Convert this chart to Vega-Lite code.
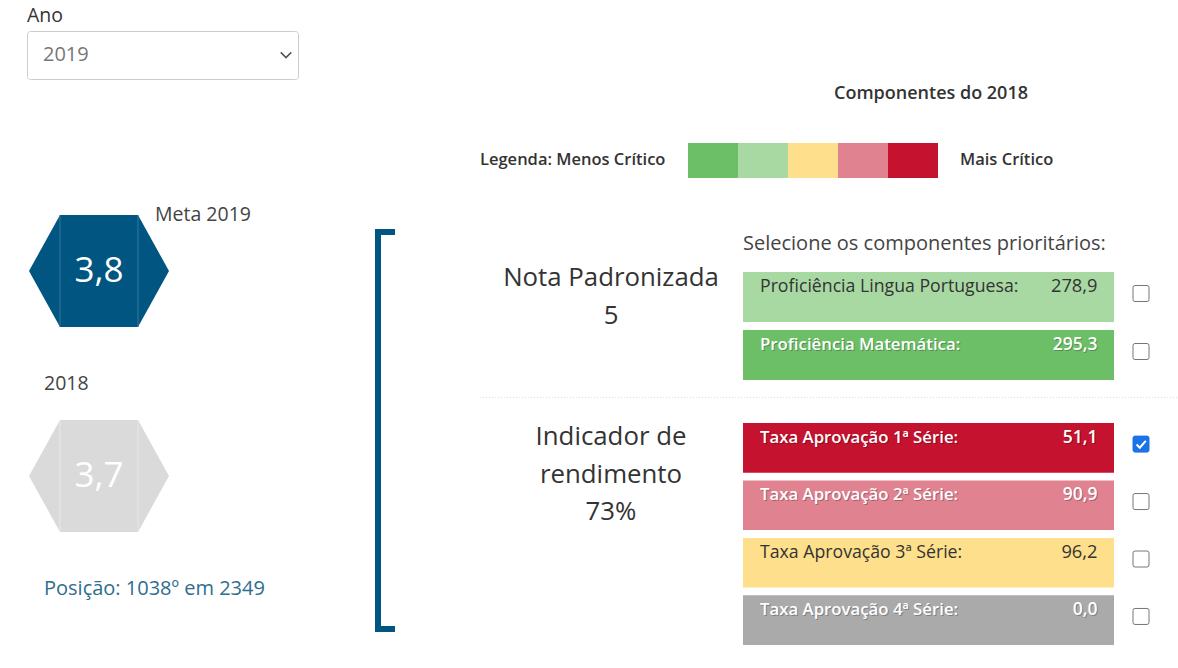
{
  "$schema": "https://vega.github.io/schema/vega-lite/v6.json",
  "width": 1178,
  "height": 668,
  "autosize": "none",
  "padding": 0,
  "background": "#ffffff",
  "config": {"view": {"stroke": null}, "font": "Open Sans", "text": {"font": "Open Sans"}},
  "datasets": {
    "painel": [{"ano_selecionado": "2019", "ano_componentes": "2018", "posicao": 1038, "total_escolas": 2349}],
    "indicadores": [
      {"indicador": "Meta 2019", "ideb": 3.8, "tipo": "meta"},
      {"indicador": "2018", "ideb": 3.7, "tipo": "resultado"}
    ],
    "niveis": [{"nivel": "1"}, {"nivel": "2"}, {"nivel": "3"}, {"nivel": "4"}, {"nivel": "5"}],
    "grupos": [
      {"grupo": "Nota Padronizada", "valor": 5},
      {"grupo": "Indicador de rendimento", "valor": 0.73}
    ],
    "componentes": [
      {"grupo": "Nota Padronizada", "componente": "Proficiência Lingua Portuguesa", "valor": 278.9, "nivel": "2", "selecionado": false},
      {"grupo": "Nota Padronizada", "componente": "Proficiência Matemática", "valor": 295.3, "nivel": "1", "selecionado": false},
      {"grupo": "Indicador de rendimento", "componente": "Taxa Aprovação 1ª Série", "valor": 51.1, "nivel": "5", "selecionado": true},
      {"grupo": "Indicador de rendimento", "componente": "Taxa Aprovação 2ª Série", "valor": 90.9, "nivel": "4", "selecionado": false},
      {"grupo": "Indicador de rendimento", "componente": "Taxa Aprovação 3ª Série", "valor": 96.2, "nivel": "3", "selecionado": false},
      {"grupo": "Indicador de rendimento", "componente": "Taxa Aprovação 4ª Série", "valor": 0.0, "nivel": "sem dado", "selecionado": false}
    ]
  },
  "resolve": {"scale": {"x": "independent", "y": "independent"}},
  "layer": [
    {
      "data": {"name": "painel"},
      "transform": [
        {"calculate": "'Componentes do ' + datum.ano_componentes", "as": "titulo"},
        {"calculate": "'Posição: ' + datum.posicao + 'º em ' + datum.total_escolas", "as": "posicao_txt"}
      ],
      "layer": [
        {"mark": {"type": "text", "align": "left", "baseline": "middle", "fontSize": 19.5, "color": "#333333"},
         "encoding": {"x": {"datum": 27, "type": "quantitative", "scale": {"domain": [0, 1178], "nice": false, "zero": false}, "axis": null},
                      "y": {"datum": 16, "type": "quantitative", "scale": {"domain": [0, 668], "nice": false, "zero": false, "reverse": true}, "axis": null},
                      "text": {"value": "Ano"}}},
        {"mark": {"type": "rect", "fill": "#ffffff", "stroke": "#cccccc", "strokeWidth": 1, "cornerRadius": 3},
         "encoding": {"x": {"datum": 27.5, "type": "quantitative", "scale": {"domain": [0, 1178], "nice": false, "zero": false}, "axis": null}, "x2": {"datum": 298.5},
                      "y": {"datum": 31.5, "type": "quantitative", "scale": {"domain": [0, 668], "nice": false, "zero": false, "reverse": true}, "axis": null}, "y2": {"datum": 79.5}}},
        {"mark": {"type": "text", "align": "left", "baseline": "middle", "fontSize": 20, "color": "#777777"},
         "encoding": {"x": {"datum": 43, "type": "quantitative", "scale": {"domain": [0, 1178], "nice": false, "zero": false}, "axis": null},
                      "y": {"datum": 55, "type": "quantitative", "scale": {"domain": [0, 668], "nice": false, "zero": false, "reverse": true}, "axis": null},
                      "text": {"field": "ano_selecionado", "type": "nominal"}}},
        {"mark": {"type": "point", "shape": "M-1,-0.5L0,0.5L1,-0.5", "filled": false, "stroke": "#555555", "strokeWidth": 1.6, "size": 110, "opacity": 1},
         "encoding": {"x": {"datum": 286, "type": "quantitative", "scale": {"domain": [0, 1178], "nice": false, "zero": false}, "axis": null},
                      "y": {"datum": 55, "type": "quantitative", "scale": {"domain": [0, 668], "nice": false, "zero": false, "reverse": true}, "axis": null}}},
        {"mark": {"type": "text", "align": "center", "baseline": "middle", "fontSize": 18, "fontWeight": 600, "color": "#333333"},
         "encoding": {"x": {"datum": 931, "type": "quantitative", "scale": {"domain": [0, 1178], "nice": false, "zero": false}, "axis": null},
                      "y": {"datum": 94, "type": "quantitative", "scale": {"domain": [0, 668], "nice": false, "zero": false, "reverse": true}, "axis": null},
                      "text": {"field": "titulo", "type": "nominal"}}},
        {"mark": {"type": "text", "align": "left", "baseline": "middle", "fontSize": 16.5, "fontWeight": 600, "color": "#333333"},
         "encoding": {"x": {"datum": 480, "type": "quantitative", "scale": {"domain": [0, 1178], "nice": false, "zero": false}, "axis": null},
                      "y": {"datum": 160, "type": "quantitative", "scale": {"domain": [0, 668], "nice": false, "zero": false, "reverse": true}, "axis": null},
                      "text": {"value": "Legenda: Menos Crítico"}}},
        {"mark": {"type": "text", "align": "left", "baseline": "middle", "fontSize": 16.5, "fontWeight": 600, "color": "#333333"},
         "encoding": {"x": {"datum": 960, "type": "quantitative", "scale": {"domain": [0, 1178], "nice": false, "zero": false}, "axis": null},
                      "y": {"datum": 160, "type": "quantitative", "scale": {"domain": [0, 668], "nice": false, "zero": false, "reverse": true}, "axis": null},
                      "text": {"value": "Mais Crítico"}}},
        {"mark": {"type": "text", "align": "left", "baseline": "middle", "fontSize": 20, "color": "#2e6d8e"},
         "encoding": {"x": {"datum": 44, "type": "quantitative", "scale": {"domain": [0, 1178], "nice": false, "zero": false}, "axis": null},
                      "y": {"datum": 589, "type": "quantitative", "scale": {"domain": [0, 668], "nice": false, "zero": false, "reverse": true}, "axis": null},
                      "text": {"field": "posicao_txt", "type": "nominal"}}},
        {"mark": {"type": "text", "align": "left", "baseline": "middle", "fontSize": 20, "color": "#444444"},
         "encoding": {"x": {"datum": 743, "type": "quantitative", "scale": {"domain": [0, 1178], "nice": false, "zero": false}, "axis": null},
                      "y": {"datum": 244, "type": "quantitative", "scale": {"domain": [0, 668], "nice": false, "zero": false, "reverse": true}, "axis": null},
                      "text": {"value": "Selecione os componentes prioritários:"}}},
        {"mark": {"type": "rule", "stroke": "#dddddd", "strokeWidth": 1, "strokeDash": [1, 2]},
         "encoding": {"x": {"datum": 480, "type": "quantitative", "scale": {"domain": [0, 1178], "nice": false, "zero": false}, "axis": null}, "x2": {"datum": 1178},
                      "y": {"datum": 397.5, "type": "quantitative", "scale": {"domain": [0, 668], "nice": false, "zero": false, "reverse": true}, "axis": null}}},
        {"mark": {"type": "rect", "fill": "#005581"},
         "encoding": {"x": {"datum": 375, "type": "quantitative", "scale": {"domain": [0, 1178], "nice": false, "zero": false}, "axis": null}, "x2": {"datum": 381},
                      "y": {"datum": 229, "type": "quantitative", "scale": {"domain": [0, 668], "nice": false, "zero": false, "reverse": true}, "axis": null}, "y2": {"datum": 632}}},
        {"mark": {"type": "rect", "fill": "#005581"},
         "encoding": {"x": {"datum": 375, "type": "quantitative", "scale": {"domain": [0, 1178], "nice": false, "zero": false}, "axis": null}, "x2": {"datum": 395},
                      "y": {"datum": 229, "type": "quantitative", "scale": {"domain": [0, 668], "nice": false, "zero": false, "reverse": true}, "axis": null}, "y2": {"datum": 235}}},
        {"mark": {"type": "rect", "fill": "#005581"},
         "encoding": {"x": {"datum": 375, "type": "quantitative", "scale": {"domain": [0, 1178], "nice": false, "zero": false}, "axis": null}, "x2": {"datum": 395},
                      "y": {"datum": 626, "type": "quantitative", "scale": {"domain": [0, 668], "nice": false, "zero": false, "reverse": true}, "axis": null}, "y2": {"datum": 632}}}
      ]
    },
    {
      "data": {"name": "indicadores"},
      "transform": [{"calculate": "replace(format(datum.ideb, '.1f'), '.', ',')", "as": "ideb_txt"}],
      "encoding": {
        "x": {"datum": 99, "type": "quantitative", "scale": {"domain": [0, 1178], "nice": false, "zero": false}, "axis": null},
        "y": {"field": "indicador", "type": "nominal", "scale": {"type": "point", "domain": ["Meta 2019", "2018"], "range": [271, 476], "padding": 0}, "axis": null}
      },
      "layer": [
        {"mark": {"type": "point", "shape": "M-1,0L-0.557,-0.8L0.557,-0.8L1,0L0.557,0.8L-0.557,0.8Z", "filled": true, "size": 19600, "opacity": 1, "strokeWidth": 0},
         "encoding": {"fill": {"field": "tipo", "type": "nominal", "scale": {"domain": ["meta", "resultado"], "range": ["#005581", "#dadada"]}, "legend": null}}},
        {"mark": {"type": "point", "shape": "M-0.557,-0.8L-0.557,0.8M0.557,-0.8L0.557,0.8", "filled": false, "size": 19600, "opacity": 1, "strokeWidth": 1},
         "encoding": {"stroke": {"condition": {"test": "datum.tipo == 'meta'", "value": "#3b77a0"}, "value": "#e8e8e8"}}},
        {"mark": {"type": "text", "align": "center", "baseline": "middle", "fontSize": 35, "color": "#ffffff"},
         "encoding": {"text": {"field": "ideb_txt", "type": "nominal"}}},
        {"transform": [{"filter": "datum.tipo == 'meta'"}],
         "mark": {"type": "text", "align": "left", "baseline": "middle", "fontSize": 19.5, "color": "#444444", "dy": -56},
         "encoding": {"x": {"datum": 155, "type": "quantitative", "scale": {"domain": [0, 1178], "nice": false, "zero": false}, "axis": null}, "text": {"field": "indicador", "type": "nominal"}}},
        {"transform": [{"filter": "datum.tipo == 'resultado'"}],
         "mark": {"type": "text", "align": "left", "baseline": "middle", "fontSize": 19.5, "color": "#444444", "dy": -92},
         "encoding": {"x": {"datum": 44, "type": "quantitative", "scale": {"domain": [0, 1178], "nice": false, "zero": false}, "axis": null}, "text": {"field": "indicador", "type": "nominal"}}}
      ]
    },
    {
      "data": {"name": "componentes"},
      "transform": [
        {"filter": "datum.grupo == 'Nota Padronizada'"},
        {"calculate": "replace(format(datum.valor, '.1f'), '.', ',')", "as": "valor_txt"},
        {"calculate": "datum.componente + ':'", "as": "rotulo"}
      ],
      "encoding": {
        "y": {"field": "componente", "type": "nominal", "scale": {"type": "band", "domain": ["Proficiência Lingua Portuguesa", "Proficiência Matemática"], "range": [272, 380], "paddingInner": 0.138, "paddingOuter": 0}, "axis": null}
      },
      "layer": [
        {"mark": {"type": "bar", "cornerRadius": 0},
         "encoding": {"x": {"datum": 743, "type": "quantitative", "scale": {"domain": [0, 1178], "nice": false, "zero": false}, "axis": null}, "x2": {"datum": 1114},
                      "color": {"field": "nivel", "type": "nominal", "scale": {"domain": ["1", "2", "3", "4", "5", "sem dado"], "range": ["#6cbf66", "#a9d9a3", "#fedf8b", "#e08290", "#c4122f", "#aaaaaa"]}, "legend": null}}},
        {"transform": [{"filter": "datum.nivel == '2' || datum.nivel == '3'"}],
         "layer": [
           {"mark": {"type": "text", "align": "left", "baseline": "middle", "fontSize": 17.7, "color": "#333333", "dy": -10},
            "encoding": {"x": {"datum": 760, "type": "quantitative", "scale": {"domain": [0, 1178], "nice": false, "zero": false}, "axis": null}, "text": {"field": "rotulo", "type": "nominal"}}},
           {"mark": {"type": "text", "align": "right", "baseline": "middle", "fontSize": 18.3, "color": "#333333", "dy": -10},
            "encoding": {"x": {"datum": 1097.5, "type": "quantitative", "scale": {"domain": [0, 1178], "nice": false, "zero": false}, "axis": null}, "text": {"field": "valor_txt", "type": "nominal"}}}
         ]},
        {"transform": [{"filter": "datum.nivel != '2' && datum.nivel != '3'"}],
         "layer": [
           {"mark": {"type": "text", "align": "left", "baseline": "middle", "fontSize": 16.8, "fontWeight": 600, "color": "#000000", "opacity": 0.25, "dx": 1, "dy": -9},
            "encoding": {"x": {"datum": 760, "type": "quantitative", "scale": {"domain": [0, 1178], "nice": false, "zero": false}, "axis": null}, "text": {"field": "rotulo", "type": "nominal"}}},
           {"mark": {"type": "text", "align": "right", "baseline": "middle", "fontSize": 17.5, "fontWeight": 600, "color": "#000000", "opacity": 0.25, "dx": 1, "dy": -9},
            "encoding": {"x": {"datum": 1097.5, "type": "quantitative", "scale": {"domain": [0, 1178], "nice": false, "zero": false}, "axis": null}, "text": {"field": "valor_txt", "type": "nominal"}}},
           {"mark": {"type": "text", "align": "left", "baseline": "middle", "fontSize": 16.8, "fontWeight": 600, "color": "#ffffff", "dy": -10},
            "encoding": {"x": {"datum": 760, "type": "quantitative", "scale": {"domain": [0, 1178], "nice": false, "zero": false}, "axis": null}, "text": {"field": "rotulo", "type": "nominal"}}},
           {"mark": {"type": "text", "align": "right", "baseline": "middle", "fontSize": 17.5, "fontWeight": 600, "color": "#ffffff", "dy": -10},
            "encoding": {"x": {"datum": 1097.5, "type": "quantitative", "scale": {"domain": [0, 1178], "nice": false, "zero": false}, "axis": null}, "text": {"field": "valor_txt", "type": "nominal"}}}
         ]},
        {"mark": {"type": "point", "shape": "M-0.75,-1L0.75,-1Q1,-1 1,-0.75L1,0.75Q1,1 0.75,1L-0.75,1Q-1,1 -1,0.75L-1,-0.75Q-1,-1 -0.75,-1Z", "size": 256, "filled": true, "strokeWidth": 1, "opacity": 1},
         "encoding": {"x": {"datum": 1141, "type": "quantitative", "scale": {"domain": [0, 1178], "nice": false, "zero": false}, "axis": null},
                      "y": {"field": "componente", "type": "nominal", "bandPosition": 0.43, "scale": {"type": "band", "domain": ["Proficiência Lingua Portuguesa", "Proficiência Matemática"], "range": [272, 380], "paddingInner": 0.138, "paddingOuter": 0}, "axis": null},
                      "fill": {"condition": {"test": "datum.selecionado", "value": "#1a73e8"}, "value": "#ffffff"},
                      "stroke": {"condition": {"test": "datum.selecionado", "value": "#1a73e8"}, "value": "#767676"}}},
        {"transform": [{"filter": "datum.selecionado"}],
         "mark": {"type": "point", "shape": "M-0.55,0.05L-0.15,0.45L0.6,-0.4", "size": 256, "filled": false, "stroke": "#ffffff", "strokeWidth": 2, "opacity": 1},
         "encoding": {"x": {"datum": 1141, "type": "quantitative", "scale": {"domain": [0, 1178], "nice": false, "zero": false}, "axis": null},
                      "y": {"field": "componente", "type": "nominal", "bandPosition": 0.43, "scale": {"type": "band", "domain": ["Proficiência Lingua Portuguesa", "Proficiência Matemática"], "range": [272, 380], "paddingInner": 0.138, "paddingOuter": 0}, "axis": null}}}
      ]
    },
    {
      "data": {"name": "componentes"},
      "transform": [
        {"filter": "datum.grupo == 'Indicador de rendimento'"},
        {"calculate": "replace(format(datum.valor, '.1f'), '.', ',')", "as": "valor_txt"},
        {"calculate": "datum.componente + ':'", "as": "rotulo"}
      ],
      "encoding": {
        "y": {"field": "componente", "type": "nominal", "scale": {"type": "band", "domain": ["Taxa Aprovação 1ª Série", "Taxa Aprovação 2ª Série", "Taxa Aprovação 3ª Série", "Taxa Aprovação 4ª Série"], "range": [423, 645], "paddingInner": 0.136, "paddingOuter": 0}, "axis": null}
      },
      "layer": [
        {"mark": {"type": "bar", "cornerRadius": 0},
         "encoding": {"x": {"datum": 743, "type": "quantitative", "scale": {"domain": [0, 1178], "nice": false, "zero": false}, "axis": null}, "x2": {"datum": 1114},
                      "color": {"field": "nivel", "type": "nominal", "scale": {"domain": ["1", "2", "3", "4", "5", "sem dado"], "range": ["#6cbf66", "#a9d9a3", "#fedf8b", "#e08290", "#c4122f", "#aaaaaa"]}, "legend": null}}},
        {"transform": [{"filter": "datum.nivel == '2' || datum.nivel == '3'"}],
         "layer": [
           {"mark": {"type": "text", "align": "left", "baseline": "middle", "fontSize": 17.7, "color": "#333333", "dy": -10},
            "encoding": {"x": {"datum": 760, "type": "quantitative", "scale": {"domain": [0, 1178], "nice": false, "zero": false}, "axis": null}, "text": {"field": "rotulo", "type": "nominal"}}},
           {"mark": {"type": "text", "align": "right", "baseline": "middle", "fontSize": 18.3, "color": "#333333", "dy": -10},
            "encoding": {"x": {"datum": 1097.5, "type": "quantitative", "scale": {"domain": [0, 1178], "nice": false, "zero": false}, "axis": null}, "text": {"field": "valor_txt", "type": "nominal"}}}
         ]},
        {"transform": [{"filter": "datum.nivel != '2' && datum.nivel != '3'"}],
         "layer": [
           {"mark": {"type": "text", "align": "left", "baseline": "middle", "fontSize": 16.8, "fontWeight": 600, "color": "#000000", "opacity": 0.25, "dx": 1, "dy": -9},
            "encoding": {"x": {"datum": 760, "type": "quantitative", "scale": {"domain": [0, 1178], "nice": false, "zero": false}, "axis": null}, "text": {"field": "rotulo", "type": "nominal"}}},
           {"mark": {"type": "text", "align": "right", "baseline": "middle", "fontSize": 17.5, "fontWeight": 600, "color": "#000000", "opacity": 0.25, "dx": 1, "dy": -9},
            "encoding": {"x": {"datum": 1097.5, "type": "quantitative", "scale": {"domain": [0, 1178], "nice": false, "zero": false}, "axis": null}, "text": {"field": "valor_txt", "type": "nominal"}}},
           {"mark": {"type": "text", "align": "left", "baseline": "middle", "fontSize": 16.8, "fontWeight": 600, "color": "#ffffff", "dy": -10},
            "encoding": {"x": {"datum": 760, "type": "quantitative", "scale": {"domain": [0, 1178], "nice": false, "zero": false}, "axis": null}, "text": {"field": "rotulo", "type": "nominal"}}},
           {"mark": {"type": "text", "align": "right", "baseline": "middle", "fontSize": 17.5, "fontWeight": 600, "color": "#ffffff", "dy": -10},
            "encoding": {"x": {"datum": 1097.5, "type": "quantitative", "scale": {"domain": [0, 1178], "nice": false, "zero": false}, "axis": null}, "text": {"field": "valor_txt", "type": "nominal"}}}
         ]},
        {"mark": {"type": "point", "shape": "M-0.75,-1L0.75,-1Q1,-1 1,-0.75L1,0.75Q1,1 0.75,1L-0.75,1Q-1,1 -1,0.75L-1,-0.75Q-1,-1 -0.75,-1Z", "size": 256, "filled": true, "strokeWidth": 1, "opacity": 1},
         "encoding": {"x": {"datum": 1141, "type": "quantitative", "scale": {"domain": [0, 1178], "nice": false, "zero": false}, "axis": null},
                      "y": {"field": "componente", "type": "nominal", "bandPosition": 0.425, "scale": {"type": "band", "domain": ["Taxa Aprovação 1ª Série", "Taxa Aprovação 2ª Série", "Taxa Aprovação 3ª Série", "Taxa Aprovação 4ª Série"], "range": [423, 645], "paddingInner": 0.136, "paddingOuter": 0}, "axis": null},
                      "fill": {"condition": {"test": "datum.selecionado", "value": "#1a73e8"}, "value": "#ffffff"},
                      "stroke": {"condition": {"test": "datum.selecionado", "value": "#1a73e8"}, "value": "#767676"}}},
        {"transform": [{"filter": "datum.selecionado"}],
         "mark": {"type": "point", "shape": "M-0.55,0.05L-0.15,0.45L0.6,-0.4", "size": 256, "filled": false, "stroke": "#ffffff", "strokeWidth": 2, "opacity": 1},
         "encoding": {"x": {"datum": 1141, "type": "quantitative", "scale": {"domain": [0, 1178], "nice": false, "zero": false}, "axis": null},
                      "y": {"field": "componente", "type": "nominal", "bandPosition": 0.425, "scale": {"type": "band", "domain": ["Taxa Aprovação 1ª Série", "Taxa Aprovação 2ª Série", "Taxa Aprovação 3ª Série", "Taxa Aprovação 4ª Série"], "range": [423, 645], "paddingInner": 0.136, "paddingOuter": 0}, "axis": null}}}
      ]
    },
    {
      "data": {"name": "grupos"},
      "transform": [
        {"calculate": "replace(datum.grupo, 'Indicador de ', 'Indicador de\\n') + '\\n' + (datum.grupo == 'Nota Padronizada' ? format(datum.valor, 'd') : format(datum.valor, '.0%'))", "as": "rotulo"}
      ],
      "mark": {"type": "text", "align": "center", "baseline": "alphabetic", "fontSize": 25.8, "color": "#333333", "lineBreak": "\n", "lineHeight": 37.5},
      "encoding": {
        "x": {"datum": 611, "type": "quantitative", "scale": {"domain": [0, 1178], "nice": false, "zero": false}, "axis": null},
        "y": {"field": "grupo", "type": "nominal", "scale": {"type": "point", "domain": ["Nota Padronizada", "Indicador de rendimento"], "range": [286, 445], "padding": 0}, "axis": null},
        "text": {"field": "rotulo", "type": "nominal"}
      }
    },
    {
      "data": {"name": "niveis"},
      "mark": {"type": "rect"},
      "encoding": {
        "x": {"field": "nivel", "type": "nominal", "scale": {"type": "band", "domain": ["1", "2", "3", "4", "5"], "range": [688, 938], "paddingInner": 0, "paddingOuter": 0}, "axis": null},
        "y": {"datum": 143, "type": "quantitative", "scale": {"domain": [0, 668], "nice": false, "zero": false, "reverse": true}, "axis": null},
        "y2": {"datum": 178},
        "color": {"field": "nivel", "type": "nominal", "scale": {"domain": ["1", "2", "3", "4", "5", "sem dado"], "range": ["#6cbf66", "#a9d9a3", "#fedf8b", "#e08290", "#c4122f", "#aaaaaa"]}, "legend": null}
      }
    }
  ]
}
